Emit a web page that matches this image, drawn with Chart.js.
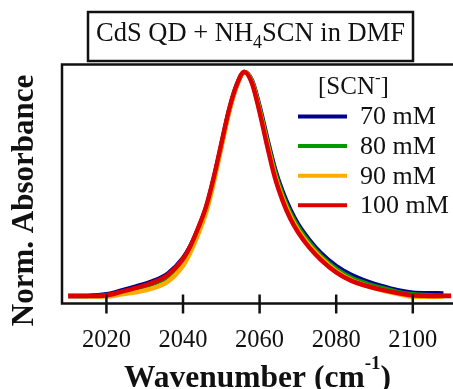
<!DOCTYPE html>
<html lang="en">
<head>
<meta charset="UTF-8">
<title>CdS QD + NH4SCN in DMF</title>
<script src="https://cdn.jsdelivr.net/npm/chart.js"></script>
<style>
  * { margin: 0; padding: 0; box-sizing: border-box; }
  body { background: #fff; }
  canvas { display: block; }
</style>
</head>
<body>
<canvas id="irChart" width="453" height="389"></canvas>
<script>
// SCN- stretch band, normalized absorbance
const wavenumber = [2010, 2015, 2020, 2024, 2028, 2032, 2036, 2040, 2042, 2044, 2046, 2048, 2050, 2052, 2054, 2056,
                    2058, 2060, 2062, 2064, 2066, 2068, 2070, 2073, 2076, 2080, 2084, 2088, 2092, 2096, 2100, 2104, 2108, 2110];
const abs70  = [0.000, 0.001, 0.008, 0.025, 0.044, 0.066, 0.100, 0.170, 0.226, 0.302, 0.392, 0.520, 0.672, 0.824, 0.938, 1.000,
                0.962, 0.845, 0.702, 0.568, 0.466, 0.386, 0.322, 0.250, 0.192, 0.134, 0.094, 0.066, 0.044, 0.026, 0.015, 0.013, 0.012, null];
const abs80  = [0.000, 0.000, 0.004, 0.017, 0.033, 0.053, 0.086, 0.158, 0.220, 0.298, 0.390, 0.520, 0.672, 0.826, 0.940, 1.000,
                0.958, 0.836, 0.690, 0.555, 0.452, 0.372, 0.310, 0.238, 0.180, 0.122, 0.082, 0.056, 0.036, 0.019, 0.008, 0.004, 0.002, 0.002];
const abs90  = [0.000, -0.001, -0.002, 0.008, 0.018, 0.034, 0.064, 0.136, 0.198, 0.278, 0.372, 0.505, 0.662, 0.818, 0.935, 1.000,
                0.955, 0.828, 0.680, 0.540, 0.438, 0.358, 0.296, 0.226, 0.170, 0.112, 0.072, 0.046, 0.026, 0.010, -0.003, -0.003, -0.002, null];
const abs100 = [0.000, 0.000, 0.004, 0.020, 0.038, 0.060, 0.094, 0.166, 0.226, 0.306, 0.398, 0.528, 0.680, 0.830, 0.942, 1.000,
                0.950, 0.820, 0.668, 0.528, 0.426, 0.346, 0.286, 0.216, 0.162, 0.106, 0.068, 0.045, 0.028, 0.014, 0.004, 0.001, 0.000, 0.000];
const concLabels = ['70 mM', '80 mM', '90 mM', '100 mM'];
const xTicks = [2020, 2040, 2060, 2080, 2100];

const lineColors = ['#00008c', '#009a00', '#ffab00', '#dd0000'];
const serif = "'Liberation Serif', 'Times New Roman', serif";

// draws a run of text pieces (sub/superscripts) starting at x
function drawRuns(ctx, runs, x, y, align) {
  let total = 0;
  runs.forEach(r => { ctx.font = r.font; total += ctx.measureText(r.text).width; });
  let cx = align === 'center' ? x - total / 2 : x;
  ctx.textAlign = 'left';
  runs.forEach(r => {
    ctx.font = r.font;
    ctx.fillText(r.text, cx, y + (r.dy || 0));
    cx += ctx.measureText(r.text).width;
  });
}

const decorations = {
  id: 'decorations',
  afterDraw(chart) {
    const ctx = chart.ctx;
    const area = chart.chartArea;
    const xs = chart.scales.x;
    ctx.save();
    ctx.strokeStyle = '#111';
    ctx.fillStyle = '#111';
    ctx.lineWidth = 2.5;

    // frame: the right side runs off the canvas
    ctx.beginPath();
    ctx.moveTo(area.right + 3, area.top);
    ctx.lineTo(area.left, area.top);
    ctx.lineTo(area.left, area.bottom);
    ctx.lineTo(area.right + 3, area.bottom);
    ctx.stroke();

    // ticks cross the bottom axis
    xTicks.forEach(v => {
      const px = xs.getPixelForValue(v);
      ctx.beginPath();
      ctx.moveTo(px, area.bottom - 9);
      ctx.lineTo(px, area.bottom + 10);
      ctx.stroke();
    });

    // boxed title
    ctx.strokeRect(88, 12, 325, 49);
    ctx.textBaseline = 'alphabetic';
    drawRuns(ctx, [
      { text: 'CdS QD + NH', font: `26.5px ${serif}` },
      { text: '4', font: `18px ${serif}`, dy: 7 },
      { text: 'SCN in DMF', font: `26.5px ${serif}` }
    ], 250.5, 41, 'center');

    // legend
    drawRuns(ctx, [
      { text: '[SCN', font: `25px ${serif}` },
      { text: '-', font: `17px ${serif}`, dy: -11 },
      { text: ']', font: `25px ${serif}` }
    ], 318, 94, 'left');
    chart.data.datasets.forEach((ds, i) => {
      const y = 116.5 + i * 29.6;
      ctx.strokeStyle = ds.borderColor;
      ctx.lineWidth = 4;
      ctx.beginPath();
      ctx.moveTo(298, y);
      ctx.lineTo(347, y);
      ctx.stroke();
      ctx.font = `26px ${serif}`;
      ctx.textBaseline = 'middle';
      ctx.fillText(ds.label, 360, y + 1);
    });

    // axis titles
    ctx.textBaseline = 'alphabetic';
    drawRuns(ctx, [
      { text: 'Wavenumber (cm', font: `bold 31.5px ${serif}` },
      { text: '-1', font: `bold 19px ${serif}`, dy: -18 },
      { text: ')', font: `bold 31.5px ${serif}` }
    ], (area.left + area.right) / 2, 387, 'center');

    ctx.translate(33, 200.5);
    ctx.rotate(-Math.PI / 2);
    ctx.font = `bold 31px ${serif}`;
    ctx.textAlign = 'center';
    ctx.fillText('Norm. Absorbance', 0, 0);
    ctx.restore();
  }
};

const series = [abs70, abs80, abs90, abs100];

new Chart(document.getElementById('irChart'), {
  type: 'line',
  data: {
    datasets: series.map((vals, i) => ({
      label: concLabels[i],
      data: wavenumber.map((w, j) => ({ x: w, y: vals[j] })),
      borderColor: lineColors[i],
      borderWidth: 4.5,
      pointRadius: 0,
      cubicInterpolationMode: 'monotone',
      order: series.length - 1 - i   // 100 mM ends up on top
    }))
  },
  options: {
    responsive: false,
    animation: false,
    layout: { autoPadding: false, padding: { top: 64.5, left: 62, right: 0, bottom: 0 } },
    plugins: { legend: { display: false }, tooltip: { enabled: false }, title: { display: false } },
    scales: {
      x: {
        type: 'linear',
        min: 2008.4,
        max: 2110.5,
        // tick marks themselves are drawn by the decorations plugin;
        // tickLength only pushes the labels down
        grid: { display: false, drawTicks: true, tickLength: 22 },
        border: { display: false },
        ticks: {
          font: { family: serif, size: 24.5 },
          color: '#111',
          padding: 0,
          maxRotation: 0,
          callback: v => String(v)
        },
        afterBuildTicks: s => { s.ticks = xTicks.map(v => ({ value: v })); },
        afterFit: s => { s.height = 85.5; }
      },
      y: { display: false, min: -0.033, max: 1.033 }
    }
  },
  plugins: [decorations]
});
</script>
</body>
</html>
